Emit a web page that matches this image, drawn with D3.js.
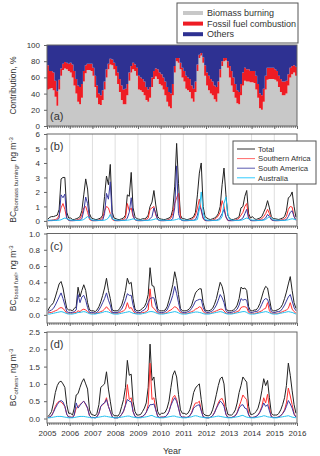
<!DOCTYPE html>
<html>
<head>
<meta charset="utf-8">
<script src="https://cdn.jsdelivr.net/npm/d3@7"></script>
<style>
  body { margin: 0; background: #fff; }
  svg text { font-family: "Liberation Sans", Arial, sans-serif; fill: #333; }
</style>
</head>
<body>
<div id="chart"></div>
<script>
// monthly values, Jan 2005 .. Dec 2015, one year per line

// (a) contribution, %
var bioPct = [
  45,46,47,44,36,25,45,62,69,71,70,68,
  66,60,50,40,30,27,35,55,65,69,69,68,
  62,48,35,27,26,32,45,60,70,76,75,70,
  62,52,42,32,27,27,38,56,66,70,68,62,
  45,44,42,38,32,30,35,48,58,61,58,52,
  50,45,38,30,24,22,38,66,80,78,70,60,
  55,46,44,42,34,30,42,68,84,87,78,62,
  50,44,40,38,33,30,40,60,74,80,81,72,
  60,50,42,35,28,27,38,50,56,55,55,54,
  54,53,45,35,22,20,30,45,57,58,58,58,
  57,55,48,42,38,38,40,50,60,64,66,62
];
var fossilPct = [
  30,22,21,22,20,18,12,9,8,8,8,9,
  12,16,18,18,20,21,17,13,10,8,8,9,
  10,14,15,13,12,12,10,10,7,7,7,8,
  12,14,16,18,18,19,14,10,8,8,8,10,
  17,16,16,17,16,15,13,12,10,10,12,14,
  14,15,17,18,18,18,14,8,4,6,8,12,
  13,16,16,16,16,16,13,8,4,3,7,13,
  16,18,18,17,17,18,15,10,6,4,3,8,
  14,18,18,17,16,15,14,16,16,15,15,14,
  14,15,17,17,18,18,16,17,15,14,14,14,
  13,13,14,16,17,17,16,14,12,10,9,11
];

// (b) BC from biomass burning, ng m-3
var bbTotal = [
  0.12,0.25,0.3,0.3,0.35,0.4,0.8,2.9,3.0,3.0,0.6,0.2,
  0.2,0.1,0.1,0.15,0.2,0.3,0.7,1.8,2.9,2.2,0.5,0.2,
  0.15,0.1,0.1,0.15,0.2,0.4,1.7,3.1,2.5,3.9,0.6,0.2,
  0.15,0.1,0.1,0.15,0.2,0.4,1.8,1.7,3.35,0.9,0.3,0.15,
  0.12,0.1,0.15,0.15,0.2,0.4,1.0,1.3,2.1,1.1,0.3,0.15,
  0.12,0.1,0.1,0.15,0.2,0.3,0.8,2.4,5.35,2.6,0.4,0.15,
  0.15,0.1,0.1,0.15,0.2,0.3,0.6,1.8,3.3,4.0,1.0,0.3,
  0.2,0.12,0.1,0.15,0.2,0.3,0.5,1.0,2.5,3.65,1.8,0.4,
  0.15,0.1,0.1,0.15,0.2,0.3,0.9,1.0,1.7,2.1,0.5,0.2,
  0.3,0.15,0.1,0.15,0.2,0.3,0.6,0.9,1.4,0.9,0.3,0.15,
  0.15,0.12,0.1,0.15,0.2,0.3,0.7,1.6,1.7,2.0,1.0,0.25
];
var bbSAfrica = [
  0.02,0.03,0.05,0.08,0.1,0.15,0.4,0.9,1.2,0.8,0.15,0.03,
  0.02,0.02,0.03,0.06,0.1,0.15,0.4,0.9,1.0,0.6,0.1,0.03,
  0.02,0.02,0.03,0.06,0.1,0.2,0.7,1.0,0.9,0.5,0.1,0.03,
  0.02,0.02,0.03,0.06,0.1,0.2,1.2,0.7,0.9,0.3,0.08,0.03,
  0.02,0.02,0.03,0.06,0.1,0.2,0.8,0.9,1.0,0.4,0.1,0.03,
  0.02,0.02,0.03,0.06,0.1,0.2,0.5,1.2,1.6,1.9,0.2,0.03,
  0.02,0.02,0.03,0.06,0.1,0.2,0.4,0.9,1.5,0.7,0.15,0.03,
  0.02,0.02,0.03,0.06,0.1,0.2,0.35,0.6,1.4,1.0,0.25,0.03,
  0.02,0.02,0.03,0.06,0.1,0.2,0.4,0.6,1.0,1.2,0.3,0.03,
  0.02,0.02,0.03,0.06,0.1,0.15,0.3,0.5,0.8,0.5,0.1,0.03,
  0.02,0.02,0.03,0.06,0.1,0.15,0.3,0.8,1.0,0.95,0.3,0.05
];
var bbSAmerica = [
  0.02,0.02,0.02,0.03,0.04,0.05,0.2,1.8,1.6,1.85,0.2,0.05,
  0.02,0.02,0.02,0.03,0.04,0.05,0.15,0.7,1.65,1.2,0.2,0.05,
  0.02,0.02,0.02,0.03,0.04,0.05,0.5,1.9,1.5,2.7,0.2,0.05,
  0.02,0.02,0.02,0.03,0.04,0.05,0.2,0.6,1.6,0.4,0.1,0.03,
  0.02,0.02,0.02,0.03,0.04,0.05,0.15,0.3,0.9,0.5,0.1,0.03,
  0.02,0.02,0.02,0.03,0.04,0.05,0.15,0.9,3.8,0.5,0.1,0.03,
  0.02,0.02,0.02,0.03,0.04,0.05,0.1,0.4,1.0,0.8,0.2,0.03,
  0.02,0.02,0.02,0.03,0.04,0.05,0.1,0.25,0.5,0.8,0.3,0.05,
  0.02,0.02,0.02,0.03,0.04,0.05,0.1,0.2,0.5,0.8,0.15,0.03,
  0.02,0.02,0.02,0.03,0.04,0.05,0.1,0.2,0.45,0.3,0.08,0.03,
  0.02,0.02,0.02,0.03,0.04,0.05,0.1,0.3,0.6,0.7,0.3,0.05
];
var bbAustralia = [
  0.05,0.05,0.05,0.05,0.04,0.04,0.05,0.08,0.15,0.2,0.15,0.08,
  0.06,0.05,0.05,0.04,0.04,0.04,0.05,0.1,0.2,0.3,0.2,0.08,
  0.06,0.05,0.05,0.04,0.04,0.04,0.05,0.1,0.2,0.45,0.15,0.08,
  0.06,0.05,0.05,0.04,0.04,0.04,0.05,0.07,0.1,0.15,0.1,0.06,
  0.05,0.05,0.05,0.04,0.04,0.04,0.05,0.07,0.1,0.15,0.1,0.06,
  0.05,0.05,0.05,0.04,0.04,0.04,0.05,0.07,0.1,0.15,0.1,0.06,
  0.05,0.05,0.05,0.04,0.04,0.04,0.05,0.1,0.8,2.0,0.6,0.1,
  0.06,0.05,0.05,0.04,0.04,0.04,0.05,0.1,0.3,1.2,1.65,0.4,
  0.1,0.06,0.05,0.04,0.04,0.04,0.05,0.08,0.15,0.2,0.15,0.08,
  0.06,0.05,0.05,0.04,0.04,0.04,0.05,0.1,0.2,0.3,0.2,0.08,
  0.06,0.05,0.05,0.04,0.04,0.04,0.05,0.08,0.12,0.15,0.12,0.08
];

// (c) BC from fossil fuel, ng m-3
var ffTotal = [
  0.05,0.1,0.12,0.15,0.22,0.3,0.38,0.41,0.33,0.2,0.08,0.06,
  0.06,0.05,0.08,0.1,0.34,0.22,0.3,0.37,0.3,0.15,0.06,0.05,
  0.05,0.04,0.06,0.1,0.16,0.24,0.33,0.45,0.3,0.2,0.06,0.05,
  0.05,0.05,0.08,0.12,0.2,0.3,0.45,0.38,0.4,0.2,0.07,0.05,
  0.05,0.06,0.08,0.1,0.15,0.25,0.58,0.36,0.35,0.2,0.07,0.05,
  0.05,0.05,0.06,0.1,0.18,0.27,0.37,0.53,0.42,0.25,0.08,0.05,
  0.05,0.05,0.06,0.08,0.12,0.2,0.27,0.3,0.32,0.32,0.15,0.06,
  0.05,0.05,0.06,0.08,0.13,0.2,0.3,0.4,0.35,0.25,0.08,0.05,
  0.05,0.05,0.06,0.08,0.12,0.2,0.34,0.32,0.33,0.3,0.1,0.05,
  0.05,0.06,0.06,0.09,0.14,0.22,0.3,0.35,0.33,0.2,0.07,0.05,
  0.05,0.06,0.07,0.09,0.13,0.2,0.28,0.38,0.47,0.3,0.15,0.08
];
var ffSAfrica = [
  0.02,0.03,0.03,0.04,0.05,0.06,0.08,0.09,0.08,0.05,0.02,0.02,
  0.02,0.02,0.03,0.03,0.05,0.04,0.06,0.07,0.06,0.04,0.02,0.02,
  0.02,0.02,0.02,0.03,0.04,0.05,0.07,0.1,0.07,0.05,0.02,0.02,
  0.02,0.02,0.03,0.04,0.05,0.07,0.15,0.08,0.09,0.05,0.02,0.02,
  0.02,0.02,0.03,0.03,0.04,0.06,0.32,0.1,0.08,0.05,0.02,0.02,
  0.02,0.02,0.02,0.03,0.05,0.06,0.08,0.1,0.09,0.06,0.03,0.02,
  0.02,0.02,0.02,0.03,0.04,0.05,0.07,0.08,0.1,0.09,0.04,0.02,
  0.02,0.02,0.02,0.03,0.04,0.05,0.06,0.07,0.07,0.05,0.02,0.02,
  0.02,0.02,0.02,0.03,0.04,0.05,0.09,0.1,0.1,0.09,0.03,0.02,
  0.02,0.02,0.02,0.03,0.04,0.05,0.07,0.08,0.15,0.05,0.02,0.02,
  0.02,0.02,0.02,0.03,0.04,0.05,0.06,0.08,0.15,0.07,0.04,0.02
];
var ffSAmerica = [
  0.03,0.05,0.06,0.08,0.12,0.17,0.22,0.27,0.2,0.12,0.04,0.03,
  0.03,0.03,0.04,0.06,0.25,0.15,0.22,0.24,0.18,0.09,0.03,0.03,
  0.03,0.02,0.03,0.06,0.1,0.15,0.2,0.27,0.18,0.12,0.03,0.03,
  0.03,0.03,0.05,0.07,0.12,0.18,0.26,0.24,0.24,0.12,0.04,0.03,
  0.03,0.03,0.05,0.06,0.09,0.15,0.2,0.21,0.21,0.12,0.04,0.03,
  0.03,0.03,0.04,0.06,0.11,0.17,0.24,0.35,0.26,0.15,0.05,0.03,
  0.03,0.03,0.04,0.05,0.08,0.12,0.17,0.18,0.19,0.19,0.09,0.04,
  0.03,0.03,0.04,0.05,0.08,0.12,0.18,0.25,0.21,0.15,0.05,0.03,
  0.03,0.03,0.04,0.05,0.07,0.12,0.2,0.18,0.19,0.18,0.06,0.03,
  0.03,0.04,0.04,0.05,0.08,0.13,0.18,0.2,0.19,0.12,0.04,0.03,
  0.03,0.04,0.04,0.05,0.08,0.12,0.17,0.22,0.25,0.17,0.09,0.05
];
var ffAustralia = [
  0.01,0.01,0.015,0.02,0.025,0.03,0.035,0.04,0.035,0.025,0.015,0.01,
  0.01,0.01,0.015,0.02,0.03,0.03,0.035,0.04,0.035,0.025,0.015,0.01,
  0.01,0.01,0.015,0.02,0.025,0.03,0.04,0.04,0.035,0.025,0.015,0.01,
  0.01,0.01,0.015,0.02,0.025,0.03,0.035,0.04,0.03,0.02,0.015,0.01,
  0.01,0.01,0.015,0.02,0.025,0.035,0.04,0.04,0.035,0.025,0.015,0.01,
  0.01,0.01,0.015,0.02,0.025,0.03,0.035,0.04,0.035,0.025,0.015,0.01,
  0.01,0.01,0.015,0.02,0.025,0.03,0.035,0.035,0.03,0.025,0.015,0.01,
  0.01,0.01,0.015,0.02,0.025,0.03,0.035,0.04,0.035,0.025,0.015,0.01,
  0.01,0.01,0.015,0.02,0.025,0.03,0.035,0.04,0.04,0.03,0.015,0.01,
  0.01,0.01,0.015,0.02,0.025,0.03,0.035,0.04,0.035,0.025,0.015,0.01,
  0.01,0.01,0.015,0.02,0.025,0.03,0.035,0.04,0.035,0.03,0.02,0.01
];

// (d) BC from other sources, ng m-3
var othTotal = [
  0.05,0.12,0.2,0.45,0.75,0.95,1.05,1.08,1.0,0.9,0.4,0.15,
  0.15,0.1,0.3,0.68,0.72,0.9,1.05,1.15,1.0,0.85,0.25,0.12,
  0.1,0.08,0.15,0.4,0.9,0.95,1.0,1.35,0.85,0.5,0.15,0.08,
  0.08,0.07,0.15,0.35,0.55,0.9,1.68,1.25,1.28,0.5,0.2,0.1,
  0.1,0.12,0.2,0.3,0.45,0.9,2.15,1.1,1.2,0.6,0.2,0.1,
  0.15,0.15,0.18,0.3,0.5,0.9,1.25,1.38,1.2,0.7,0.25,0.15,
  0.15,0.12,0.15,0.25,0.45,0.75,0.88,0.95,1.0,0.55,0.15,0.1,
  0.08,0.08,0.12,0.25,0.45,0.7,0.95,1.15,1.2,1.0,0.35,0.12,
  0.1,0.1,0.15,0.25,0.45,0.75,0.95,1.2,1.12,1.05,0.35,0.12,
  0.12,0.15,0.2,0.3,0.5,0.8,1.15,0.95,1.1,0.6,0.15,0.1,
  0.1,0.1,0.15,0.25,0.4,0.6,0.95,1.6,1.25,0.8,0.4,0.15
];
var othSAfrica = [
  0.02,0.05,0.08,0.2,0.35,0.45,0.5,0.48,0.42,0.35,0.12,0.04,
  0.04,0.03,0.1,0.3,0.35,0.4,0.45,0.5,0.4,0.3,0.08,0.03,
  0.03,0.02,0.05,0.15,0.35,0.4,0.45,0.6,0.35,0.2,0.05,0.02,
  0.02,0.02,0.05,0.12,0.2,0.4,0.98,0.55,0.6,0.2,0.06,0.03,
  0.03,0.04,0.06,0.1,0.18,0.4,1.6,0.55,0.6,0.25,0.06,0.03,
  0.04,0.04,0.05,0.1,0.2,0.4,0.6,0.67,0.55,0.3,0.08,0.04,
  0.04,0.03,0.04,0.08,0.18,0.35,0.45,0.45,0.5,0.25,0.05,0.03,
  0.02,0.02,0.04,0.08,0.18,0.3,0.45,0.55,0.58,0.45,0.12,0.03,
  0.03,0.03,0.05,0.08,0.18,0.35,0.5,0.68,0.6,0.55,0.12,0.03,
  0.03,0.04,0.06,0.1,0.2,0.35,0.6,0.45,0.7,0.3,0.05,0.03,
  0.03,0.03,0.05,0.08,0.15,0.25,0.45,0.88,0.65,0.4,0.15,0.04
];
var othSAmerica = [
  0.02,0.05,0.08,0.18,0.3,0.4,0.48,0.52,0.48,0.35,0.12,0.04,
  0.04,0.03,0.1,0.45,0.3,0.38,0.45,0.5,0.42,0.3,0.08,0.03,
  0.03,0.02,0.05,0.15,0.35,0.42,0.45,0.55,0.35,0.2,0.05,0.02,
  0.02,0.02,0.05,0.12,0.22,0.38,0.55,0.5,0.48,0.2,0.06,0.03,
  0.03,0.04,0.06,0.1,0.18,0.3,0.4,0.4,0.42,0.25,0.06,0.03,
  0.04,0.04,0.05,0.1,0.2,0.38,0.5,0.6,0.5,0.3,0.08,0.04,
  0.04,0.03,0.04,0.08,0.16,0.3,0.35,0.38,0.4,0.22,0.05,0.03,
  0.02,0.02,0.04,0.08,0.16,0.3,0.4,0.5,0.45,0.35,0.12,0.03,
  0.03,0.03,0.05,0.08,0.16,0.3,0.38,0.4,0.3,0.28,0.1,0.03,
  0.03,0.04,0.06,0.1,0.18,0.3,0.45,0.35,0.4,0.22,0.05,0.03,
  0.03,0.03,0.05,0.08,0.14,0.22,0.35,0.52,0.42,0.3,0.12,0.04
];
var othAustralia = [
  0.02,0.02,0.03,0.04,0.05,0.06,0.06,0.06,0.05,0.04,0.03,0.02,
  0.02,0.02,0.03,0.04,0.05,0.06,0.06,0.06,0.05,0.04,0.03,0.02,
  0.02,0.02,0.03,0.04,0.05,0.06,0.07,0.06,0.05,0.04,0.03,0.02,
  0.02,0.02,0.03,0.04,0.05,0.06,0.07,0.07,0.05,0.04,0.03,0.02,
  0.02,0.02,0.03,0.04,0.05,0.06,0.08,0.09,0.06,0.04,0.03,0.02,
  0.02,0.02,0.03,0.04,0.05,0.06,0.07,0.07,0.05,0.04,0.03,0.02,
  0.02,0.02,0.03,0.04,0.05,0.07,0.08,0.07,0.05,0.04,0.03,0.02,
  0.02,0.02,0.03,0.04,0.05,0.06,0.07,0.06,0.05,0.04,0.03,0.02,
  0.02,0.02,0.03,0.04,0.05,0.06,0.08,0.09,0.06,0.04,0.03,0.02,
  0.02,0.02,0.03,0.04,0.05,0.06,0.08,0.07,0.05,0.04,0.03,0.02,
  0.02,0.02,0.03,0.04,0.05,0.06,0.07,0.08,0.06,0.04,0.03,0.02
];

var contribTicks = [0, 20, 40, 60, 80, 100];
var bbTicks = [0, 1, 2, 3, 4, 5, 6];
var ffTicks = [0, 0.2, 0.4, 0.6, 0.8, 1.0];
var othTicks = [0, 0.5, 1.0, 1.5, 2.0, 2.5];
var stackNames = ['Biomass burning', 'Fossil fuel combustion', 'Others'];
var regionNames = ['Total', 'Southern Africa', 'South America', 'Australia'];

var stackColors = ['#c8c8c8', '#ee1c24', '#2e3192'],
    lineColors = ['#222222', '#ff3030', '#3a3aa0', '#22c0f0'],
    legendLineColors = ['#333333', '#ff6b6b', '#5a5ab0', '#33ccff'];

var marg_l = 47, marg_r = 297;

var svg = d3.select('#chart').append('svg')
    .attr('width', 320)
    .attr('height', 456);

var x = d3.scaleTime()
    .domain([new Date(2005, 0, 1), new Date(2016, 0, 1)])
    .range([marg_l, marg_r]);

var nMonths = bioPct.length;
var monthStart = d3.range(nMonths + 1).map(function(i) { return new Date(2005, i, 1); });
var monthMid = d3.range(nMonths).map(function(i) { return new Date(2005, i, 15); });

var panels = [
    {tag: '(a)', top: 45, bottom: 126, domain: [0, 100], ticks: contribTicks, fmt: d3.format('d')},
    {tag: '(b)', top: 134, bottom: 226, domain: [-0.35, 6], ticks: bbTicks, fmt: d3.format('d'),
        series: [bbTotal, bbSAfrica, bbSAmerica, bbAustralia], sub: 'Biomass burning'},
    {tag: '(c)', top: 233.5, bottom: 323, domain: [-0.1, 1.0], ticks: ffTicks, fmt: d3.format('.1f'),
        series: [ffTotal, ffSAfrica, ffSAmerica, ffAustralia], sub: 'fossil fuel'},
    {tag: '(d)', top: 332, bottom: 423, domain: [-0.13, 2.5], ticks: othTicks, fmt: d3.format('.1f'),
        series: [othTotal, othSAfrica, othSAmerica, othAustralia], sub: 'others'}
];

panels.forEach(function(p, pi) {
    var y = d3.scaleLinear().domain(p.domain).range([p.bottom, p.top]);
    var g = svg.append('g');

    if (pi == 0) {
        // stacked step areas
        var rows = bioPct.map(function(b, i) {
            return {bio: b, ff: fossilPct[i], oth: 100 - b - fossilPct[i]};
        });
        rows.push(rows[rows.length - 1]);
        var stacked = d3.stack().keys(['bio', 'ff', 'oth'])(rows);
        var area = d3.area()
            .curve(d3.curveStepAfter)
            .x(function(d, i) { return x(monthStart[i]); })
            .y0(function(d) { return y(d[0]); })
            .y1(function(d) { return y(d[1]); });
        g.selectAll('path.layer')
            .data(stacked)
            .enter().append('path')
                .attr('class', 'layer')
                .attr('fill', function(d, i) { return stackColors[i]; })
                .attr('d', area);
    } else {
        // year grid
        g.selectAll('line.grid')
            .data(x.ticks(d3.timeYear.every(1)).slice(1, -1))
            .enter().append('line')
                .attr('x1', function(d) { return x(d); })
                .attr('x2', function(d) { return x(d); })
                .attr('y1', p.top)
                .attr('y2', p.bottom)
                .attr('stroke', '#dedede')
                .attr('stroke-width', 1);

        var line = d3.line()
            .x(function(d, i) { return x(monthMid[i]); })
            .y(function(d) { return y(d); });
        p.series.forEach(function(s, si) {
            g.append('path')
                .datum(s)
                .attr('fill', 'none')
                .attr('stroke', lineColors[si])
                .attr('stroke-width', 1)
                .attr('d', line);
        });
    }

    // frame
    g.append('rect')
        .attr('x', marg_l)
        .attr('y', p.top)
        .attr('width', marg_r - marg_l)
        .attr('height', p.bottom - p.top)
        .attr('fill', 'none')
        .attr('stroke', '#666');

    // axes
    var yAxis = g.append('g')
        .attr('transform', 'translate(' + marg_l + ',0)')
        .call(d3.axisLeft(y).tickValues(p.ticks).tickSize(3).tickPadding(4).tickFormat(p.fmt));
    var xMajor = g.append('g')
        .attr('transform', 'translate(0,' + p.bottom + ')')
        .call(d3.axisBottom(x).ticks(d3.timeYear.every(1)).tickSize(3).tickPadding(4)
            .tickFormat(pi == 3 ? d3.timeFormat('%Y') : ''));
    var xMinor = g.append('g')
        .attr('transform', 'translate(0,' + p.bottom + ')')
        .call(d3.axisBottom(x).ticks(d3.timeMonth.every(1)).tickSize(1.8).tickFormat(''));
    [yAxis, xMajor, xMinor].forEach(function(a) {
        a.select('.domain').remove();
        a.selectAll('line').attr('stroke', '#666');
        a.selectAll('text').style('font-size', '8px').attr('fill', '#333');
    });

    g.append('text')
        .attr('x', 50)
        .attr('y', pi == 0 ? p.bottom - 6 : p.top + 16)
        .style('font-size', '11px')
        .text(p.tag);

    // y label
    var ylab = g.append('text')
        .attr('transform', 'translate(16,' + ((p.top + p.bottom) / 2) + ')rotate(-90)')
        .style('text-anchor', 'middle')
        .style('font-size', '8.5px');
    if (pi == 0) {
        ylab.text('Contribution, %');
    } else {
        ylab.append('tspan').text('BC');
        ylab.append('tspan').attr('dy', 2).style('font-size', '6px').text(p.sub);
        ylab.append('tspan').attr('dy', -2).text(', ng m');
        ylab.append('tspan').attr('dy', -3).style('font-size', '6px').text('-3');
    }
});

// legend (a)
var legA = svg.append('g');
legA.append('rect')
    .attr('x', 177).attr('y', 3).attr('width', 121).attr('height', 40)
    .attr('fill', '#fff').attr('stroke', '#555');
stackNames.forEach(function(n, i) {
    legA.append('rect')
        .attr('x', 183).attr('y', 11 + i * 10.6).attr('width', 20).attr('height', 4)
        .attr('fill', stackColors[i]);
    legA.append('text')
        .attr('x', 207).attr('y', 16.2 + i * 10.6)
        .style('font-size', '9px')
        .text(n);
});

// legend (b)
var legB = svg.append('g');
legB.append('rect')
    .attr('x', 233).attr('y', 141).attr('width', 83).attr('height', 43)
    .attr('fill', '#fff').attr('stroke', '#555');
regionNames.forEach(function(n, i) {
    legB.append('line')
        .attr('x1', 237).attr('x2', 255)
        .attr('y1', 149 + i * 9.6).attr('y2', 149 + i * 9.6)
        .attr('stroke', legendLineColors[i]);
    legB.append('text')
        .attr('x', 258).attr('y', 151.8 + i * 9.6)
        .style('font-size', '7.7px')
        .text(n);
});

svg.append('text')
    .attr('x', (marg_l + marg_r) / 2)
    .attr('y', 454)
    .style('text-anchor', 'middle')
    .style('font-size', '9px')
    .text('Year');
</script>
</body>
</html>
